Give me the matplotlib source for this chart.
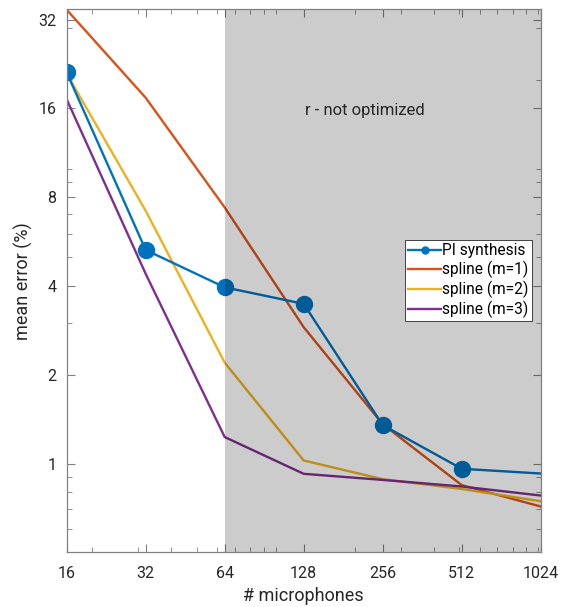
import matplotlib.pyplot as plt
from matplotlib.lines import Line2D
from matplotlib.ticker import FixedLocator, LogLocator, NullFormatter, FixedFormatter

plt.rcParams['font.family'] = ['Roboto', 'DejaVu Sans']

mics = [16, 32, 64, 128, 256, 512, 1024]
pi_synthesis = [21.2, 5.3, 3.96, 3.48, 1.35, 0.96, 0.925]
spline_m1 = [34.6, 17.4, 7.39, 2.9, 1.36, 0.845, 0.715]
spline_m2 = [21.0, 7.2, 2.2, 1.024, 0.885, 0.82, 0.745]
spline_m3 = [17.2, 4.4, 1.23, 0.923, 0.88, 0.836, 0.779]
tick_vals_x = [16, 32, 64, 128, 256, 512, 1024]
tick_vals_y = [1, 2, 4, 8, 16, 32]

blue = '#0072BD'
red = '#D95319'
yellow = '#EDB120'
purple = '#7E2F8E'
txt = '#262626'

fig = plt.figure(figsize=(5.65, 6.07), dpi=100)
ax = fig.add_axes([0.118, 0.0901, 0.839, 0.8951])

ax.plot(mics, pi_synthesis, color=blue, lw=1.7, marker='o', ms=11.5,
        markevery=list(range(6)), zorder=3)
ax.plot(mics, spline_m1, color=red, lw=1.7, zorder=2)
ax.plot(mics, spline_m2, color=yellow, lw=1.7, zorder=2)
ax.plot(mics, spline_m3, color=purple, lw=1.7, zorder=2)

# grey band drawn over the lines
ax.axvspan(64, 1024, color='black', alpha=0.2, lw=0, zorder=4)
ax.text(130, 15.8, 'r - not optimized', fontsize=12, color=txt,
        ha='left', va='center', zorder=5)

ax.set_xscale('log', base=2)
ax.set_yscale('log', base=2)
ax.set_xlim(16, 1024)
ax.set_ylim(0.5, 34.8)

ax.xaxis.set_major_locator(FixedLocator(tick_vals_x))
ax.xaxis.set_major_formatter(FixedFormatter([str(v) for v in tick_vals_x]))
ax.yaxis.set_major_locator(FixedLocator(tick_vals_y))
ax.yaxis.set_major_formatter(FixedFormatter([str(v) for v in tick_vals_y]))
for a in (ax.xaxis, ax.yaxis):
    a.set_minor_locator(LogLocator(base=10, subs=range(1, 10)))
    a.set_minor_formatter(NullFormatter())

ax.tick_params(which='both', direction='in', top=True, right=True,
               labelsize=11.5, labelcolor=txt, color='#808080')
ax.tick_params(which='major', length=6, width=0.8)
ax.tick_params(which='minor', length=3.5, width=0.6)
ax.tick_params(axis='x', which='major', pad=10)
ax.tick_params(axis='y', which='major', pad=7.5)
for s in ax.spines.values():
    s.set_color('#808080')
    s.set_linewidth(0.9)
    s.set_zorder(6)

ax.set_xlabel('# microphones', fontsize=13, color=txt, labelpad=4)
ax.set_ylabel('mean error (%)', fontsize=13, color=txt, labelpad=4)

handles = [
    Line2D([], [], color=blue, lw=1.7, marker='o', ms=5),
    Line2D([], [], color=red, lw=1.7),
    Line2D([], [], color=yellow, lw=1.7),
    Line2D([], [], color=purple, lw=1.7),
]
labels = ['PI synthesis', 'spline (m=1)', 'spline (m=2)', 'spline (m=3)']
leg = ax.legend(handles, labels, loc='upper left', bbox_to_anchor=(0.714, 0.575),
                fontsize=11.2, frameon=True, fancybox=False, framealpha=1,
                edgecolor='#262626', handlelength=2.1, handletextpad=0.1,
                labelspacing=0.18, borderpad=0.2, borderaxespad=0)
leg.get_frame().set_linewidth(0.6)
leg.set_zorder(7)

fig.savefig('out.png', dpi=100)
